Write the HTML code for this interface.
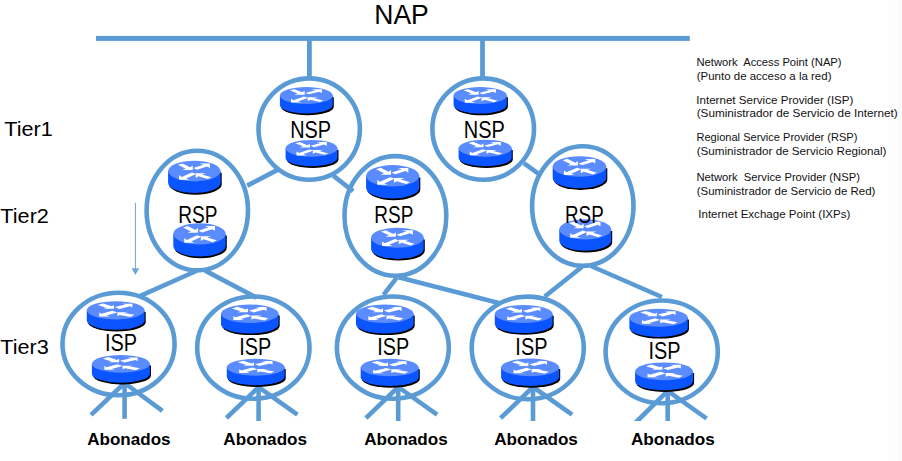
<!DOCTYPE html>
<html><head><meta charset="utf-8"><title>NAP</title>
<style>html,body{margin:0;padding:0;background:#fff;overflow:hidden}
svg{display:block;font-family:"Liberation Sans",sans-serif}</style></head><body>
<svg width="902" height="461" viewBox="0 0 902 461">
<rect width="902" height="461" fill="#fff"/>
<rect x="889" y="0" width="9" height="461" fill="#fdfdfd"/>
<rect x="897.5" y="0" width="5" height="461" fill="#fafafa"/>
<rect x="96" y="35.9" width="593.8" height="5" fill="#5b9bd5"/>
<line x1="309.4" y1="40.0" x2="309.4" y2="77.0" stroke="#5b9bd5" stroke-width="4.8"/>
<line x1="482.5" y1="40.0" x2="482.5" y2="77.0" stroke="#5b9bd5" stroke-width="4.8"/>
<line x1="280.0" y1="168.6" x2="247.2" y2="185.6" stroke="#5b9bd5" stroke-width="4.6"/>
<line x1="333.2" y1="175.6" x2="353.2" y2="191.2" stroke="#5b9bd5" stroke-width="4.6"/>
<line x1="523.8" y1="163.2" x2="538.8" y2="173.9" stroke="#5b9bd5" stroke-width="4.6"/>
<line x1="196.3" y1="271.0" x2="138.6" y2="296.7" stroke="#5b9bd5" stroke-width="4.6"/>
<line x1="205.1" y1="270.6" x2="256.6" y2="297.6" stroke="#5b9bd5" stroke-width="4.6"/>
<line x1="396.8" y1="277.7" x2="383.5" y2="294.9" stroke="#5b9bd5" stroke-width="4.6"/>
<line x1="398.5" y1="277.2" x2="498.8" y2="302.9" stroke="#5b9bd5" stroke-width="4.6"/>
<line x1="582.1" y1="266.8" x2="544.8" y2="296.5" stroke="#5b9bd5" stroke-width="4.6"/>
<line x1="590.9" y1="266.0" x2="661.9" y2="297.0" stroke="#5b9bd5" stroke-width="4.6"/>
<line x1="135.4" y1="202.8" x2="135.4" y2="269" stroke="#6fa3d8" stroke-width="1"/>
<polygon points="131.6,268.3 139.2,268.3 135.4,275" fill="#6fa3d8"/>
<ellipse cx="309.20" cy="129.05" rx="50.70" ry="50.65" fill="none" stroke="#5b9bd5" stroke-width="4.6"/>
<ellipse cx="483.20" cy="129.05" rx="50.80" ry="50.65" fill="none" stroke="#5b9bd5" stroke-width="4.6"/>
<ellipse cx="197.30" cy="210.60" rx="50.70" ry="59.80" fill="none" stroke="#5b9bd5" stroke-width="4.6"/>
<ellipse cx="395.40" cy="215.90" rx="50.90" ry="59.80" fill="none" stroke="#5b9bd5" stroke-width="4.6"/>
<ellipse cx="582.80" cy="206.00" rx="50.70" ry="59.80" fill="none" stroke="#5b9bd5" stroke-width="4.6"/>
<ellipse cx="118.55" cy="343.95" rx="56.05" ry="51.25" fill="none" stroke="#5b9bd5" stroke-width="4.6"/>
<ellipse cx="253.35" cy="347.65" rx="56.15" ry="51.15" fill="none" stroke="#5b9bd5" stroke-width="4.6"/>
<ellipse cx="392.85" cy="347.65" rx="55.95" ry="51.15" fill="none" stroke="#5b9bd5" stroke-width="4.6"/>
<ellipse cx="527.75" cy="347.90" rx="56.05" ry="51.30" fill="none" stroke="#5b9bd5" stroke-width="4.6"/>
<ellipse cx="661.70" cy="351.85" rx="56.10" ry="51.35" fill="none" stroke="#5b9bd5" stroke-width="4.6"/>
<line x1="124.6" y1="383.0" x2="91.1" y2="414.8" stroke="#5b9bd5" stroke-width="4.6"/>
<line x1="124.6" y1="383.0" x2="124.6" y2="418.8" stroke="#5b9bd5" stroke-width="4.6"/>
<line x1="124.6" y1="383.0" x2="162.4" y2="410.9" stroke="#5b9bd5" stroke-width="4.6"/>
<line x1="258.6" y1="387.2" x2="226.4" y2="418.0" stroke="#5b9bd5" stroke-width="4.6"/>
<line x1="258.6" y1="387.2" x2="258.6" y2="421.0" stroke="#5b9bd5" stroke-width="4.6"/>
<line x1="258.6" y1="387.2" x2="297.4" y2="414.7" stroke="#5b9bd5" stroke-width="4.6"/>
<line x1="398.2" y1="387.0" x2="365.9" y2="418.2" stroke="#5b9bd5" stroke-width="4.6"/>
<line x1="398.2" y1="387.0" x2="398.2" y2="421.0" stroke="#5b9bd5" stroke-width="4.6"/>
<line x1="398.2" y1="387.0" x2="437.1" y2="414.7" stroke="#5b9bd5" stroke-width="4.6"/>
<line x1="533.0" y1="387.0" x2="500.6" y2="418.2" stroke="#5b9bd5" stroke-width="4.6"/>
<line x1="533.0" y1="387.0" x2="533.0" y2="421.0" stroke="#5b9bd5" stroke-width="4.6"/>
<line x1="533.0" y1="387.0" x2="572.1" y2="414.7" stroke="#5b9bd5" stroke-width="4.6"/>
<line x1="667.7" y1="390.8" x2="635.2" y2="423.0" stroke="#5b9bd5" stroke-width="4.6"/>
<line x1="667.7" y1="390.8" x2="667.7" y2="423.0" stroke="#5b9bd5" stroke-width="4.6"/>
<line x1="667.7" y1="390.8" x2="706.6" y2="418.5" stroke="#5b9bd5" stroke-width="4.6"/>
<rect x="620" y="421" width="110" height="6" fill="#fff"/>
<path d="M279.90,95.48 v9.54 a26.40,8.48 0 0 0 52.80,0 v-9.54 z" fill="#000" transform="translate(1.1,1.7)"/>
<path d="M279.90,95.48 v9.54 a26.40,8.48 0 0 0 52.80,0 v-9.54 z" fill="#0a55ff"/>
<ellipse cx="306.30" cy="95.48" rx="26.40" ry="8.48" fill="#5a8cff"/>
<polygon points="289.76,90.29 297.65,93.50 294.16,94.63 304.72,94.63 304.72,90.82 302.21,92.35 294.32,89.14" fill="#fff"/>
<polygon points="323.39,100.59 314.05,98.28 318.18,97.26 307.62,97.26 307.62,101.08 310.50,99.75 319.84,102.07" fill="#fff"/>
<polygon points="308.93,94.34 319.05,91.67 321.88,93.02 321.88,89.20 311.32,89.20 315.37,90.23 305.25,92.89" fill="#fff"/>
<polygon points="303.87,96.56 293.57,100.26 290.99,98.79 290.99,102.60 301.55,102.60 297.91,101.51 308.20,97.80" fill="#fff"/>
<path d="M285.60,148.32 v9.47 a25.90,8.42 0 0 0 51.80,0 v-9.47 z" fill="#000" transform="translate(1.1,1.7)"/>
<path d="M285.60,148.32 v9.47 a25.90,8.42 0 0 0 51.80,0 v-9.47 z" fill="#0a55ff"/>
<ellipse cx="311.50" cy="148.32" rx="25.90" ry="8.42" fill="#5a8cff"/>
<polygon points="295.28,143.17 303.01,146.35 299.59,147.47 309.95,147.47 309.95,143.69 307.48,145.21 299.75,142.02" fill="#fff"/>
<polygon points="328.26,153.39 319.10,151.09 323.15,150.08 312.80,150.08 312.80,153.87 315.62,152.56 324.78,154.86" fill="#fff"/>
<polygon points="314.08,147.18 324.01,144.54 326.78,145.88 326.78,142.09 316.42,142.09 320.40,143.11 310.47,145.75" fill="#fff"/>
<polygon points="309.11,149.38 299.01,153.06 296.48,151.60 296.48,155.39 306.84,155.39 303.27,154.30 313.37,150.62" fill="#fff"/>
<path d="M453.60,95.51 v9.58 a26.60,8.51 0 0 0 53.20,0 v-9.58 z" fill="#000" transform="translate(1.1,1.7)"/>
<path d="M453.60,95.51 v9.58 a26.60,8.51 0 0 0 53.20,0 v-9.58 z" fill="#0a55ff"/>
<ellipse cx="480.20" cy="95.51" rx="26.60" ry="8.51" fill="#5a8cff"/>
<polygon points="463.54,90.30 471.48,93.53 467.96,94.66 478.60,94.66 478.60,90.83 476.08,92.37 468.13,89.14" fill="#fff"/>
<polygon points="497.42,100.64 488.01,98.32 492.17,97.30 481.53,97.30 481.53,101.13 484.43,99.80 493.84,102.13" fill="#fff"/>
<polygon points="482.85,94.36 493.05,91.69 495.89,93.04 495.89,89.21 485.25,89.21 489.34,90.24 479.14,92.92" fill="#fff"/>
<polygon points="477.75,96.59 467.38,100.31 464.77,98.83 464.77,102.66 475.41,102.66 471.74,101.56 482.12,97.84" fill="#fff"/>
<path d="M458.60,148.18 v9.54 a26.55,8.48 0 0 0 53.10,0 v-9.54 z" fill="#000" transform="translate(1.1,1.7)"/>
<path d="M458.60,148.18 v9.54 a26.55,8.48 0 0 0 53.10,0 v-9.54 z" fill="#0a55ff"/>
<ellipse cx="485.15" cy="148.18" rx="26.55" ry="8.48" fill="#5a8cff"/>
<polygon points="468.52,142.99 476.45,146.20 472.94,147.33 483.56,147.33 483.56,143.52 481.03,145.05 473.11,141.84" fill="#fff"/>
<polygon points="502.33,153.29 492.94,150.98 497.10,149.96 486.48,149.96 486.48,153.78 489.37,152.45 498.76,154.77" fill="#fff"/>
<polygon points="487.80,147.04 497.97,144.37 500.81,145.72 500.81,141.90 490.19,141.90 494.27,142.93 484.10,145.59" fill="#fff"/>
<polygon points="482.70,149.26 472.35,152.96 469.75,151.49 469.75,155.30 480.37,155.30 476.71,154.21 487.06,150.50" fill="#fff"/>
<path d="M168.10,171.10 v11.59 a26.25,10.30 0 0 0 52.50,0 v-11.59 z" fill="#000" transform="translate(1.1,1.7)"/>
<path d="M168.10,171.10 v11.59 a26.25,10.30 0 0 0 52.50,0 v-11.59 z" fill="#0a55ff"/>
<ellipse cx="194.35" cy="171.10" rx="26.25" ry="10.30" fill="#5a8cff"/>
<polygon points="177.91,164.80 185.75,168.70 182.28,170.07 192.78,170.07 192.78,165.44 190.28,167.30 182.44,163.40" fill="#fff"/>
<polygon points="211.34,177.32 202.05,174.50 206.16,173.27 195.66,173.27 195.66,177.90 198.52,176.29 207.81,179.11" fill="#fff"/>
<polygon points="196.97,169.71 207.03,166.48 209.84,168.12 209.84,163.48 199.34,163.48 203.37,164.72 193.31,167.96" fill="#fff"/>
<polygon points="191.93,172.41 181.70,176.92 179.12,175.12 179.12,179.76 189.62,179.76 186.01,178.43 196.24,173.92" fill="#fff"/>
<path d="M173.30,233.92 v11.95 a26.20,10.62 0 0 0 52.40,0 v-11.95 z" fill="#000" transform="translate(1.1,1.7)"/>
<path d="M173.30,233.92 v11.95 a26.20,10.62 0 0 0 52.40,0 v-11.95 z" fill="#0a55ff"/>
<ellipse cx="199.50" cy="233.92" rx="26.20" ry="10.62" fill="#5a8cff"/>
<polygon points="183.09,227.42 190.91,231.45 187.45,232.86 197.93,232.86 197.93,228.08 195.44,230.00 187.61,225.98" fill="#fff"/>
<polygon points="216.46,240.33 207.19,237.43 211.29,236.16 200.81,236.16 200.81,240.94 203.67,239.28 212.93,242.18" fill="#fff"/>
<polygon points="202.11,232.49 212.15,229.15 214.96,230.84 214.96,226.06 204.48,226.06 208.50,227.35 198.46,230.68" fill="#fff"/>
<polygon points="197.09,235.27 186.87,239.92 184.30,238.07 184.30,242.85 194.78,242.85 191.17,241.47 201.39,236.83" fill="#fff"/>
<path d="M366.10,175.79 v12.02 a26.55,10.69 0 0 0 53.10,0 v-12.02 z" fill="#000" transform="translate(1.1,1.7)"/>
<path d="M366.10,175.79 v12.02 a26.55,10.69 0 0 0 53.10,0 v-12.02 z" fill="#0a55ff"/>
<ellipse cx="392.65" cy="175.79" rx="26.55" ry="10.69" fill="#5a8cff"/>
<polygon points="376.02,169.25 383.95,173.29 380.44,174.72 391.06,174.72 391.06,169.91 388.53,171.84 380.61,167.79" fill="#fff"/>
<polygon points="409.83,182.23 400.44,179.31 404.60,178.03 393.98,178.03 393.98,182.84 396.87,181.17 406.26,184.09" fill="#fff"/>
<polygon points="395.30,174.35 405.47,170.99 408.31,172.69 408.31,167.88 397.69,167.88 401.77,169.17 391.60,172.53" fill="#fff"/>
<polygon points="390.20,177.14 379.85,181.82 377.25,179.96 377.25,184.77 387.87,184.77 384.21,183.38 394.56,178.71" fill="#fff"/>
<path d="M371.10,237.68 v11.23 a26.30,9.98 0 0 0 52.60,0 v-11.23 z" fill="#000" transform="translate(1.1,1.7)"/>
<path d="M371.10,237.68 v11.23 a26.30,9.98 0 0 0 52.60,0 v-11.23 z" fill="#0a55ff"/>
<ellipse cx="397.40" cy="237.68" rx="26.30" ry="9.98" fill="#5a8cff"/>
<polygon points="380.93,231.58 388.78,235.35 385.30,236.69 395.82,236.69 395.82,232.19 393.32,233.99 385.47,230.21" fill="#fff"/>
<polygon points="414.42,243.70 405.12,240.97 409.23,239.78 398.71,239.78 398.71,244.27 401.58,242.71 410.89,245.44" fill="#fff"/>
<polygon points="400.02,236.34 410.10,233.20 412.92,234.79 412.92,230.30 402.40,230.30 406.43,231.50 396.36,234.64" fill="#fff"/>
<polygon points="394.98,238.95 384.72,243.32 382.15,241.58 382.15,246.07 392.67,246.07 389.04,244.78 399.30,240.41" fill="#fff"/>
<path d="M552.70,166.51 v11.48 a26.75,10.21 0 0 0 53.50,0 v-11.48 z" fill="#000" transform="translate(1.1,1.7)"/>
<path d="M552.70,166.51 v11.48 a26.75,10.21 0 0 0 53.50,0 v-11.48 z" fill="#0a55ff"/>
<ellipse cx="579.45" cy="166.51" rx="26.75" ry="10.21" fill="#5a8cff"/>
<polygon points="562.69,160.26 570.68,164.13 567.15,165.49 577.85,165.49 577.85,160.89 575.30,162.74 567.32,158.87" fill="#fff"/>
<polygon points="596.76,172.66 587.30,169.87 591.49,168.65 580.79,168.65 580.79,173.25 583.70,171.65 593.17,174.44" fill="#fff"/>
<polygon points="582.12,165.13 592.37,161.93 595.23,163.55 595.23,158.95 584.53,158.95 588.64,160.19 578.39,163.39" fill="#fff"/>
<polygon points="576.99,167.80 566.55,172.27 563.94,170.49 563.94,175.08 574.64,175.08 570.95,173.76 581.38,169.30" fill="#fff"/>
<path d="M559.30,229.31 v11.38 a25.90,10.11 0 0 0 51.80,0 v-11.38 z" fill="#000" transform="translate(1.1,1.7)"/>
<path d="M559.30,229.31 v11.38 a25.90,10.11 0 0 0 51.80,0 v-11.38 z" fill="#0a55ff"/>
<ellipse cx="585.20" cy="229.31" rx="25.90" ry="10.11" fill="#5a8cff"/>
<polygon points="568.98,223.12 576.71,226.95 573.29,228.30 583.65,228.30 583.65,223.75 581.18,225.57 573.45,221.75" fill="#fff"/>
<polygon points="601.96,235.41 592.80,232.65 596.86,231.44 586.50,231.44 586.50,235.99 589.32,234.41 598.48,237.17" fill="#fff"/>
<polygon points="587.78,227.95 597.71,224.77 600.48,226.38 600.48,221.83 590.12,221.83 594.10,223.05 584.17,226.23" fill="#fff"/>
<polygon points="582.81,230.59 572.71,235.02 570.18,233.26 570.18,237.81 580.54,237.81 576.97,236.50 587.07,232.07" fill="#fff"/>
<path d="M86.80,310.32 v10.26 a28.90,9.12 0 0 0 57.80,0 v-10.26 z" fill="#000" transform="translate(1.1,1.7)"/>
<path d="M86.80,310.32 v10.26 a28.90,9.12 0 0 0 57.80,0 v-10.26 z" fill="#0a55ff"/>
<ellipse cx="115.70" cy="310.32" rx="28.90" ry="9.12" fill="#5a8cff"/>
<polygon points="97.70,305.04 106.55,307.88 103.27,308.77 113.97,308.77 113.97,304.94 111.91,306.22 103.06,303.38" fill="#fff"/>
<polygon points="134.37,314.86 123.83,312.90 128.01,312.14 117.32,312.14 117.32,315.97 120.01,314.94 130.55,316.90" fill="#fff"/>
<polygon points="119.46,308.97 130.11,306.34 132.46,307.49 132.46,303.66 121.77,303.66 125.48,304.48 114.83,307.11" fill="#fff"/>
<polygon points="112.32,310.72 101.41,313.82 99.23,312.60 99.23,316.43 109.92,316.43 106.44,315.58 117.35,312.48" fill="#fff"/>
<path d="M91.90,363.86 v9.97 a29.00,8.86 0 0 0 58.00,0 v-9.97 z" fill="#000" transform="translate(1.1,1.7)"/>
<path d="M91.90,363.86 v9.97 a29.00,8.86 0 0 0 58.00,0 v-9.97 z" fill="#0a55ff"/>
<ellipse cx="120.90" cy="363.86" rx="29.00" ry="8.86" fill="#5a8cff"/>
<polygon points="102.84,358.73 111.72,361.49 108.43,362.36 119.16,362.36 119.16,358.63 117.09,359.88 108.22,357.12" fill="#fff"/>
<polygon points="139.64,368.28 129.06,366.37 133.25,365.64 122.52,365.64 122.52,369.36 125.22,368.36 135.80,370.26" fill="#fff"/>
<polygon points="124.67,362.56 135.36,360.00 137.72,361.12 137.72,357.39 126.99,357.39 130.72,358.18 120.03,360.74" fill="#fff"/>
<polygon points="117.51,364.25 106.56,367.26 104.37,366.08 104.37,369.80 115.10,369.80 111.61,368.98 122.55,365.96" fill="#fff"/>
<path d="M221.00,313.75 v10.40 a28.80,9.25 0 0 0 57.60,0 v-10.40 z" fill="#000" transform="translate(1.1,1.7)"/>
<path d="M221.00,313.75 v10.40 a28.80,9.25 0 0 0 57.60,0 v-10.40 z" fill="#0a55ff"/>
<ellipse cx="249.80" cy="313.75" rx="28.80" ry="9.25" fill="#5a8cff"/>
<polygon points="231.87,308.39 240.68,311.27 237.42,312.18 248.07,312.18 248.07,308.29 246.02,309.59 237.21,306.71" fill="#fff"/>
<polygon points="268.41,318.35 257.90,316.36 262.07,315.60 251.41,315.60 251.41,319.48 254.09,318.43 264.60,320.42" fill="#fff"/>
<polygon points="253.55,312.38 264.16,309.71 266.50,310.88 266.50,307.00 255.85,307.00 259.55,307.82 248.93,310.49" fill="#fff"/>
<polygon points="246.43,314.15 235.56,317.29 233.38,316.06 233.38,319.94 244.04,319.94 240.58,319.08 251.44,315.94" fill="#fff"/>
<path d="M226.80,367.25 v9.50 a28.90,8.45 0 0 0 57.80,0 v-9.50 z" fill="#000" transform="translate(1.1,1.7)"/>
<path d="M226.80,367.25 v9.50 a28.90,8.45 0 0 0 57.80,0 v-9.50 z" fill="#0a55ff"/>
<ellipse cx="255.70" cy="367.25" rx="28.90" ry="8.45" fill="#5a8cff"/>
<polygon points="237.70,362.36 246.55,364.99 243.27,365.81 253.97,365.81 253.97,362.26 251.91,363.45 243.06,360.82" fill="#fff"/>
<polygon points="274.37,371.46 263.83,369.64 268.01,368.94 257.32,368.94 257.32,372.49 260.01,371.53 270.55,373.35" fill="#fff"/>
<polygon points="259.46,366.00 270.11,363.56 272.46,364.63 272.46,361.08 261.77,361.08 265.48,361.83 254.83,364.27" fill="#fff"/>
<polygon points="252.32,367.61 241.41,370.49 239.23,369.36 239.23,372.91 249.92,372.91 246.44,372.12 257.35,369.25" fill="#fff"/>
<path d="M356.00,313.75 v10.40 a28.80,9.25 0 0 0 57.60,0 v-10.40 z" fill="#000" transform="translate(1.1,1.7)"/>
<path d="M356.00,313.75 v10.40 a28.80,9.25 0 0 0 57.60,0 v-10.40 z" fill="#0a55ff"/>
<ellipse cx="384.80" cy="313.75" rx="28.80" ry="9.25" fill="#5a8cff"/>
<polygon points="366.87,308.39 375.68,311.27 372.42,312.18 383.07,312.18 383.07,308.29 381.02,309.59 372.21,306.71" fill="#fff"/>
<polygon points="403.41,318.35 392.90,316.36 397.07,315.60 386.41,315.60 386.41,319.48 389.09,318.43 399.60,320.42" fill="#fff"/>
<polygon points="388.55,312.38 399.16,309.71 401.50,310.88 401.50,307.00 390.85,307.00 394.55,307.82 383.93,310.49" fill="#fff"/>
<polygon points="381.43,314.15 370.56,317.29 368.38,316.06 368.38,319.94 379.04,319.94 375.58,319.08 386.44,315.94" fill="#fff"/>
<path d="M360.70,367.50 v9.79 a29.00,8.70 0 0 0 58.00,0 v-9.79 z" fill="#000" transform="translate(1.1,1.7)"/>
<path d="M360.70,367.50 v9.79 a29.00,8.70 0 0 0 58.00,0 v-9.79 z" fill="#0a55ff"/>
<ellipse cx="389.70" cy="367.50" rx="29.00" ry="8.70" fill="#5a8cff"/>
<polygon points="371.64,362.47 380.52,365.18 377.23,366.02 387.96,366.02 387.96,362.37 385.89,363.59 377.02,360.88" fill="#fff"/>
<polygon points="408.44,371.84 397.86,369.97 402.05,369.24 391.32,369.24 391.32,372.90 394.02,371.91 404.60,373.79" fill="#fff"/>
<polygon points="393.47,366.22 404.16,363.71 406.52,364.81 406.52,361.15 395.79,361.15 399.52,361.93 388.83,364.44" fill="#fff"/>
<polygon points="386.31,367.88 375.36,370.84 373.17,369.68 373.17,373.34 383.90,373.34 380.41,372.52 391.35,369.56" fill="#fff"/>
<path d="M494.80,313.99 v10.12 a28.90,8.99 0 0 0 57.80,0 v-10.12 z" fill="#000" transform="translate(1.1,1.7)"/>
<path d="M494.80,313.99 v10.12 a28.90,8.99 0 0 0 57.80,0 v-10.12 z" fill="#0a55ff"/>
<ellipse cx="523.70" cy="313.99" rx="28.90" ry="8.99" fill="#5a8cff"/>
<polygon points="505.70,308.79 514.55,311.59 511.27,312.46 521.97,312.46 521.97,308.69 519.91,309.95 511.06,307.15" fill="#fff"/>
<polygon points="542.37,318.47 531.83,316.53 536.01,315.79 525.32,315.79 525.32,319.57 528.01,318.55 538.55,320.48" fill="#fff"/>
<polygon points="527.46,312.66 538.11,310.07 540.46,311.20 540.46,307.43 529.77,307.43 533.48,308.23 522.83,310.82" fill="#fff"/>
<polygon points="520.32,314.38 509.41,317.44 507.23,316.24 507.23,320.02 517.92,320.02 514.44,319.18 525.35,316.12" fill="#fff"/>
<path d="M501.10,367.37 v9.86 a29.00,8.77 0 0 0 58.00,0 v-9.86 z" fill="#000" transform="translate(1.1,1.7)"/>
<path d="M501.10,367.37 v9.86 a29.00,8.77 0 0 0 58.00,0 v-9.86 z" fill="#0a55ff"/>
<ellipse cx="530.10" cy="367.37" rx="29.00" ry="8.77" fill="#5a8cff"/>
<polygon points="512.04,362.29 520.92,365.02 517.63,365.88 528.36,365.88 528.36,362.19 526.29,363.42 517.42,360.69" fill="#fff"/>
<polygon points="548.84,371.73 538.26,369.85 542.45,369.12 531.72,369.12 531.72,372.80 534.42,371.81 545.00,373.70" fill="#fff"/>
<polygon points="533.87,366.07 544.56,363.54 546.92,364.65 546.92,360.97 536.19,360.97 539.92,361.75 529.23,364.28" fill="#fff"/>
<polygon points="526.71,367.75 515.76,370.73 513.57,369.56 513.57,373.24 524.30,373.24 520.81,372.42 531.75,369.44" fill="#fff"/>
<path d="M629.40,317.79 v10.12 a29.20,8.99 0 0 0 58.40,0 v-10.12 z" fill="#000" transform="translate(1.1,1.7)"/>
<path d="M629.40,317.79 v10.12 a29.20,8.99 0 0 0 58.40,0 v-10.12 z" fill="#0a55ff"/>
<ellipse cx="658.60" cy="317.79" rx="29.20" ry="8.99" fill="#5a8cff"/>
<polygon points="640.42,312.59 649.35,315.39 646.04,316.26 656.85,316.26 656.85,312.49 654.77,313.75 645.83,310.95" fill="#fff"/>
<polygon points="677.46,322.27 666.81,320.33 671.04,319.59 660.24,319.59 660.24,323.37 662.95,322.35 673.61,324.28" fill="#fff"/>
<polygon points="662.40,316.46 673.16,313.87 675.54,315.00 675.54,311.23 664.73,311.23 668.48,312.03 657.72,314.62" fill="#fff"/>
<polygon points="655.18,318.18 644.17,321.24 641.96,320.04 641.96,323.82 652.76,323.82 649.25,322.98 660.27,319.92" fill="#fff"/>
<path d="M635.10,371.33 v10.04 a28.95,8.93 0 0 0 57.90,0 v-10.04 z" fill="#000" transform="translate(1.1,1.7)"/>
<path d="M635.10,371.33 v10.04 a28.95,8.93 0 0 0 57.90,0 v-10.04 z" fill="#0a55ff"/>
<ellipse cx="664.05" cy="371.33" rx="28.95" ry="8.93" fill="#5a8cff"/>
<polygon points="646.02,366.16 654.88,368.94 651.60,369.81 662.31,369.81 662.31,366.06 660.25,367.31 651.39,364.53" fill="#fff"/>
<polygon points="682.75,375.77 672.19,373.85 676.38,373.11 665.67,373.11 665.67,376.86 668.37,375.85 678.93,377.77" fill="#fff"/>
<polygon points="667.82,370.01 678.49,367.43 680.84,368.56 680.84,364.81 670.13,364.81 673.85,365.61 663.18,368.18" fill="#fff"/>
<polygon points="660.66,371.72 649.74,374.75 647.55,373.56 647.55,377.31 658.26,377.31 654.78,376.48 665.70,373.44" fill="#fff"/>
<text x="290.18" y="137.9" font-size="23" textLength="40.94" lengthAdjust="spacingAndGlyphs" fill="#000" xml:space="preserve" style="white-space:pre">NSP</text>
<text x="463.87" y="137.7" font-size="23" textLength="41.05" lengthAdjust="spacingAndGlyphs" fill="#000" xml:space="preserve" style="white-space:pre">NSP</text>
<text x="178.14" y="222.9" font-size="23" textLength="39.23" lengthAdjust="spacingAndGlyphs" fill="#000" xml:space="preserve" style="white-space:pre">RSP</text>
<text x="374.35" y="222.9" font-size="23" textLength="39.01" lengthAdjust="spacingAndGlyphs" fill="#000" xml:space="preserve" style="white-space:pre">RSP</text>
<text x="565.07" y="222.9" font-size="23" textLength="38.58" lengthAdjust="spacingAndGlyphs" fill="#000" xml:space="preserve" style="white-space:pre">RSP</text>
<text x="104.96" y="350.7" font-size="23" textLength="32.07" lengthAdjust="spacingAndGlyphs" fill="#000" xml:space="preserve" style="white-space:pre">ISP</text>
<text x="239.17" y="354.7" font-size="23" textLength="31.96" lengthAdjust="spacingAndGlyphs" fill="#000" xml:space="preserve" style="white-space:pre">ISP</text>
<text x="377.37" y="354.7" font-size="23" textLength="31.96" lengthAdjust="spacingAndGlyphs" fill="#000" xml:space="preserve" style="white-space:pre">ISP</text>
<text x="515.36" y="354.7" font-size="23" textLength="32.07" lengthAdjust="spacingAndGlyphs" fill="#000" xml:space="preserve" style="white-space:pre">ISP</text>
<text x="648.46" y="358.7" font-size="23" textLength="32.07" lengthAdjust="spacingAndGlyphs" fill="#000" xml:space="preserve" style="white-space:pre">ISP</text>
<text x="4.27" y="135.6" font-size="20.5" textLength="48.46" lengthAdjust="spacingAndGlyphs" fill="#000" xml:space="preserve" style="white-space:pre">Tier1</text>
<text x="0.37" y="223.0" font-size="20.5" textLength="48.56" lengthAdjust="spacingAndGlyphs" fill="#000" xml:space="preserve" style="white-space:pre">Tier2</text>
<text x="0.37" y="353.6" font-size="20.5" textLength="48.42" lengthAdjust="spacingAndGlyphs" fill="#000" xml:space="preserve" style="white-space:pre">Tier3</text>
<text x="374.28" y="24.2" font-size="26.8" textLength="54.49" lengthAdjust="spacingAndGlyphs" fill="#000" xml:space="preserve" style="white-space:pre">NAP</text>
<text x="87.26" y="445.4" font-size="15.9" textLength="83.31" lengthAdjust="spacingAndGlyphs" font-weight="700" fill="#000" xml:space="preserve" style="white-space:pre">Abonados</text>
<text x="223.36" y="445.4" font-size="15.9" textLength="83.72" lengthAdjust="spacingAndGlyphs" font-weight="700" fill="#000" xml:space="preserve" style="white-space:pre">Abonados</text>
<text x="364.16" y="445.4" font-size="15.9" textLength="83.61" lengthAdjust="spacingAndGlyphs" font-weight="700" fill="#000" xml:space="preserve" style="white-space:pre">Abonados</text>
<text x="494.26" y="445.4" font-size="15.9" textLength="83.61" lengthAdjust="spacingAndGlyphs" font-weight="700" fill="#000" xml:space="preserve" style="white-space:pre">Abonados</text>
<text x="630.96" y="445.4" font-size="15.9" textLength="83.82" lengthAdjust="spacingAndGlyphs" font-weight="700" fill="#000" xml:space="preserve" style="white-space:pre">Abonados</text>
<text x="696.44" y="66.0" font-size="10.2" textLength="145.14" lengthAdjust="spacingAndGlyphs" fill="#111" xml:space="preserve" style="white-space:pre">Network  Access Point (NAP)</text>
<text x="696.70" y="79.9" font-size="10.2" textLength="134.81" lengthAdjust="spacingAndGlyphs" fill="#111" xml:space="preserve" style="white-space:pre">(Punto de acceso a la red)</text>
<text x="696.26" y="104.1" font-size="10.2" textLength="157.21" lengthAdjust="spacingAndGlyphs" fill="#111" xml:space="preserve" style="white-space:pre">Internet Service Provider (ISP)</text>
<text x="696.68" y="117.2" font-size="10.2" textLength="201.01" lengthAdjust="spacingAndGlyphs" fill="#111" xml:space="preserve" style="white-space:pre">(Suministrador de Servicio de Internet)</text>
<text x="696.45" y="141.0" font-size="10.2" textLength="160.94" lengthAdjust="spacingAndGlyphs" fill="#111" xml:space="preserve" style="white-space:pre">Regional Service Provider (RSP)</text>
<text x="696.69" y="154.5" font-size="10.2" textLength="189.69" lengthAdjust="spacingAndGlyphs" fill="#111" xml:space="preserve" style="white-space:pre">(Suministrador de Servicio Regional)</text>
<text x="696.44" y="181.4" font-size="10.2" textLength="163.44" lengthAdjust="spacingAndGlyphs" fill="#111" xml:space="preserve" style="white-space:pre">Network  Service Provider (NSP)</text>
<text x="696.70" y="195.0" font-size="10.2" textLength="178.77" lengthAdjust="spacingAndGlyphs" fill="#111" xml:space="preserve" style="white-space:pre">(Suministrador de Servicio de Red)</text>
<text x="698.27" y="217.9" font-size="10.2" textLength="152.12" lengthAdjust="spacingAndGlyphs" fill="#111" xml:space="preserve" style="white-space:pre">Internet Exchage Point (IXPs)</text>
</svg></body></html>
